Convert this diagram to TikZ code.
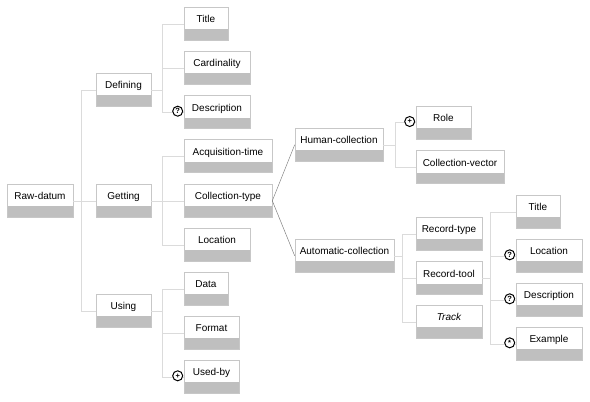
\documentclass[tikz,border=0pt]{standalone}
\usepackage{fontspec}
\setmainfont{Liberation Sans}
\begin{document}
\begin{tikzpicture}[x=1pt,y=-1pt,
  bx/.style={draw=black!22, line width=0.6pt, fill=white, minimum height=33pt, inner sep=0pt,
    font=\fontsize{10}{12}\selectfont, text height=7pt, text depth=9pt,
    path picture={\fill[black!25] ([yshift=11pt]path picture bounding box.south west) rectangle (path picture bounding box.south east);}},
  conn/.style={draw=black!14, line width=0.6pt},
  fan/.style={draw=black!50, line width=0.5pt},
  mk/.style={circle, draw=black, line width=1pt, fill=white, inner sep=0pt, minimum size=10pt,
    font=\fontsize{7.5}{8}\selectfont\bfseries}]
\useasboundingbox (0,0) rectangle (590,402);
% level 0
\node[bx, minimum width=66pt] (raw) at (40,200.8) {Raw-datum};
% level 1
\node[bx, minimum width=55pt] (def) at (123.5,89.8) {Defining};
\node[bx, minimum width=55pt] (get) at (123.5,200.8) {Getting};
\node[bx, minimum width=55pt] (use) at (123.5,310.8) {Using};
% level 2
\node[bx, minimum width=44pt] (title) at (206,23.8) {Title};
\node[bx, minimum width=66pt] (card) at (217,67.8) {Cardinality};
\node[bx, minimum width=66pt] (desc) at (217,112.2) {Description};
\node[bx, minimum width=88pt] (acq) at (228,156.2) {Acquisition-time};
\node[bx, minimum width=88pt] (ctype) at (228,200.8) {Collection-type};
\node[bx, minimum width=66pt] (loc) at (217,244.8) {Location};
\node[bx, minimum width=44pt] (data) at (206,288.8) {Data};
\node[bx, minimum width=55pt] (fmt) at (211.5,332.8) {Format};
\node[bx, minimum width=55pt] (usedby) at (211.5,376.8) {Used-by};
% level 3
\node[bx, minimum width=88pt] (human) at (339,144.8) {Human-collection};
\node[bx, minimum width=99pt] (auto) at (344.5,255.8) {Automatic-collection};
% level 4
\node[bx, minimum width=55pt] (role) at (443.5,122.5) {Role};
\node[bx, minimum width=88pt] (cvec) at (460,167.2) {Collection-vector};
\node[bx, minimum width=66pt] (rtype) at (449,233.8) {Record-type};
\node[bx, minimum width=66pt] (rtool) at (449,278.2) {Record-tool};
\node[bx, minimum width=66pt] (track) at (449,321.8) {\itshape Track};
% level 5
\node[bx, minimum width=44pt] (title2) at (538,211.8) {Title};
\node[bx, minimum width=66pt] (loc2) at (549,255.8) {Location};
\node[bx, minimum width=66pt] (desc2) at (549,299.8) {Description};
\node[bx, minimum width=66pt] (ex) at (549,343.8) {Example};
% connectors
\path[conn] (raw.east) -- ++(8,0) |- (def.west);
\path[conn] (raw.east) -- ++(8,0) |- (get.west);
\path[conn] (raw.east) -- ++(8,0) |- (use.west);
\path[conn] (def.east) -- ++(11,0) |- (title.west);
\path[conn] (def.east) -- ++(11,0) |- (card.west);
\path[conn] (def.east) -- ++(11,0) |- (desc.west);
\path[conn] (get.east) -- ++(11,0) |- (acq.west);
\path[conn] (get.east) -- ++(11,0) |- (ctype.west);
\path[conn] (get.east) -- ++(11,0) |- (loc.west);
\path[conn] (use.east) -- ++(11,0) |- (data.west);
\path[conn] (use.east) -- ++(11,0) |- (fmt.west);
\path[conn] (use.east) -- ++(11,0) |- (usedby.west);
\path[fan] (ctype.east) -- (human.west);
\path[fan] (ctype.east) -- (auto.west);
\path[conn] (human.east) -- ++(12,0) |- (role.west);
\path[conn] (human.east) -- ++(12,0) |- (cvec.west);
\path[conn] (auto.east) -- ++(8,0) |- (rtype.west);
\path[conn] (auto.east) -- ++(8,0) |- (rtool.west);
\path[conn] (auto.east) -- ++(8,0) |- (track.west);
\path[conn] (rtool.east) -- ++(8,0) |- (title2.west);
\path[conn] (rtool.east) -- ++(8,0) |- (loc2.west);
\path[conn] (rtool.east) -- ++(8,0) |- (desc2.west);
\path[conn] (rtool.east) -- ++(8,0) |- (ex.west);
% markers
\node[mk] (m1) at ([xshift=-6pt,yshift=1pt]desc.west) {?};
\node[mk] (m2) at ([xshift=-6pt,yshift=1pt]usedby.west) {+};
\node[mk] (m3) at ([xshift=-6pt,yshift=1pt]role.west) {+};
\node[mk] (m4) at ([xshift=-6pt,yshift=1pt]loc2.west) {?};
\node[mk] (m5) at ([xshift=-6pt,yshift=1pt]desc2.west) {?};
\node[mk] (m6) at ([xshift=-6pt,yshift=1pt]ex.west) {*};
\end{tikzpicture}
\end{document}
